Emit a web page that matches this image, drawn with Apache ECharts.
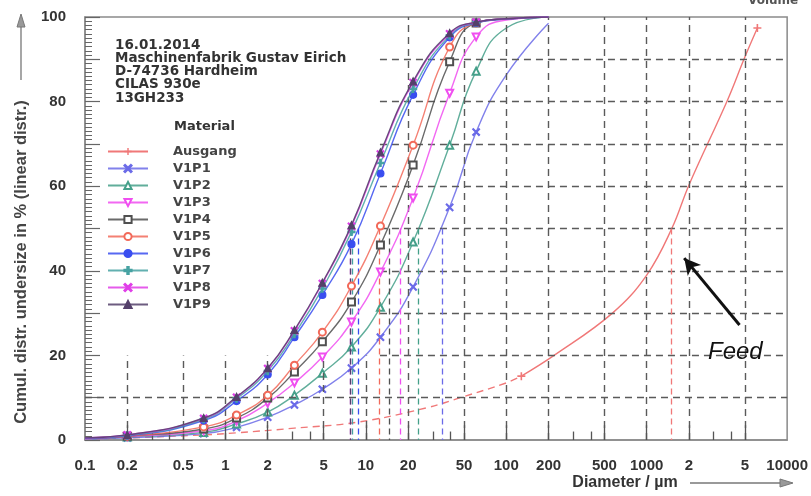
<!DOCTYPE html>
<html>
<head>
<meta charset="utf-8">
<script src="https://cdn.jsdelivr.net/npm/echarts@6/dist/echarts.min.js"></script>
<style>
  html, body { margin: 0; padding: 0; background: #fff; }
  #chart { width: 811px; height: 496px; }
</style>
</head>
<body>
<div id="chart"></div>
<script>
// 粒径分布 (CILAS 930e) - 累计筛下量 Q3
const sizes = [0.1, 0.2, 0.7, 1.2, 2, 3.1, 4.9, 7.9, 12.7, 21.7, 39.5, 61, 100, 200];

const v1p1 = [0.2, 0.5, 1.5, 3.0, 5.4, 8.3, 12.0, 17.0, 24.3, 36.2, 55.0, 72.8, 86.3, 98.5];
const v1p2 = [0.3, 0.7, 1.8, 3.8, 6.6, 10.6, 15.8, 22.0, 31.4, 46.8, 69.7, 87.2, 97.4, 100];
const v1p3 = [0.3, 0.8, 2.2, 4.5, 8.7, 13.5, 19.6, 27.9, 39.7, 57.2, 82.0, 95.3, 99.3, 100];
const v1p4 = [0.4, 0.9, 2.6, 5.2, 9.9, 16.1, 23.2, 32.6, 46.1, 65.0, 89.4, 98.6, 99.5, 100];
const v1p5 = [0.4, 0.9, 3.1, 5.9, 10.6, 17.7, 25.5, 36.4, 50.6, 69.7, 92.9, 98.6, 99.6, 100];
const v1p6 = [0.4, 1.0, 4.6, 9.2, 15.5, 24.3, 34.3, 46.3, 63.0, 81.6, 95.2, 98.6, 99.5, 100];
const v1p7 = [0.5, 1.1, 4.9, 9.8, 16.3, 25.0, 35.8, 49.2, 65.5, 83.0, 95.6, 98.7, 99.6, 100];
const v1p8 = [0.5, 1.2, 5.1, 10.1, 16.9, 25.8, 37.0, 50.5, 67.6, 84.5, 96.0, 98.8, 99.6, 100];
const v1p9 = [0.5, 1.2, 5.2, 10.2, 17.0, 26.0, 37.2, 50.8, 68.0, 84.8, 96.2, 98.8, 99.6, 100];

// Ausgang (Feed): gestrichelt bis 128 µm, danach durchgezogen
const feedSizesDash = [0.1, 0.2, 0.7, 1.2, 3.1, 8.7, 27, 49, 100, 128];
const feedValsDash = [0.2, 0.5, 1.2, 1.7, 2.8, 4.2, 7.6, 10.2, 13.5, 15.1];
const feedSizes = [128, 219, 570, 1000, 1514, 2000, 3765, 4966, 6138];
const feedVals = [15.1, 20.0, 30.0, 39.0, 50.1, 60.3, 80.4, 90.3, 97.4];

// d50 Werte (Reihenfolge wie names)
const names = ['Ausgang', 'V1P1', 'V1P2', 'V1P3', 'V1P4', 'V1P5', 'V1P6', 'V1P7', 'V1P8', 'V1P9'];
const d50 = [1500, 35, 23.5, 17.6, 14.7, 12.4, 8.8, 8.0, 7.8, 7.75];

const xTicks = [0.1, 0.2, 0.5, 1, 2, 5, 10, 20, 50, 100, 200, 500, 1000, 2000, 5000, 10000];
const xGrid = [0.2, 0.5, 1, 2, 5, 10, 20, 50, 100, 200, 500, 1000, 2000, 5000];
const xMinor = [0.3, 0.4, 3, 4, 30, 40, 300, 400, 3000, 4000];
const yGrid = [10, 20, 30, 40, 50, 60, 70, 80, 90];

const headerLines = ['16.01.2014', 'Maschinenfabrik Gustav Eirich', 'D-74736 Hardheim', 'CILAS 930e', '13GH233'];

// Bereich hinter der Legende ohne Gitter (Ecke in Achsenwerten)
const boxCorner = [12.6, 20];
// Pfeil zur Feed-Kurve (Achsenwerte)
const feedArrow = [[4580, 27.2], [1850, 43.0]];

const PLUS = 'path://M4,0H6V4H10V6H6V10H4V6H0V4H4Z';
const CROSS = 'path://M1,0L5,4L9,0L10,1L6,5L10,9L9,10L5,6L1,10L0,9L4,5L0,1Z';

const styles = {
  V1P1: { color: '#6b6be8', symbol: CROSS },
  V1P2: { color: '#45a08a', symbol: 'emptyTriangle' },
  V1P3: { color: '#f04ef0', symbol: 'emptyTriangle', rotate: 180 },
  V1P4: { color: '#505050', symbol: 'emptyRect' },
  V1P5: { color: '#f26a5a', symbol: 'emptyCircle' },
  V1P6: { color: '#3a4ef0', symbol: 'circle' },
  V1P7: { color: '#46a2a2', symbol: PLUS },
  V1P8: { color: '#e03ee8', symbol: CROSS },
  V1P9: { color: '#54406a', symbol: 'triangle' }
};
const feedColor = '#f07878';

function points(xs, ys, keep) {
  return xs.map((x, i) => {
    const item = { value: [x, ys[i]] };
    if (!keep(i, xs.length)) item.symbol = 'none';
    return item;
  });
}

function d50Line(i, color) {
  return {
    silent: true,
    symbol: 'none',
    label: { show: false },
    lineStyle: { color: color, type: [6, 4], width: 1.3 },
    data: [[{ coord: [d50[i], 50] }, { coord: [d50[i], 0] }]]
  };
}

const curveData = [v1p1, v1p2, v1p3, v1p4, v1p5, v1p6, v1p7, v1p8, v1p9];

const series = [];

// Gitter, Teilstriche und Pfeil als markLine einer leeren Hilfsreihe
const gridLines = [];
yGrid.forEach(y => {
  gridLines.push([{ coord: [y > 10 ? boxCorner[0] : 0.1, y] }, { coord: [10000, y] }]);
});
xGrid.forEach(x => {
  gridLines.push([{ coord: [x, 0] }, { coord: [x, x < boxCorner[0] ? boxCorner[1] : 100] }]);
});
xGrid.forEach(x => {
  gridLines.push([{ coord: [x, 0], lineStyle: { type: 'solid', color: '#555', width: 1.3 } }, { coord: [x, 3.5] }]);
});
xMinor.forEach(x => {
  gridLines.push([{ coord: [x, 0], lineStyle: { type: 'solid', color: '#555', width: 1.3 } }, { coord: [x, 2] }]);
});
gridLines.push([
  { coord: feedArrow[0], lineStyle: { type: 'solid', color: '#111', width: 3 }, symbol: 'none' },
  { coord: feedArrow[1], symbol: 'arrow', symbolSize: [13, 16] }
]);

series.push({
  name: '_grid',
  type: 'line',
  data: [],
  z: 1,
  markLine: {
    silent: true,
    symbol: 'none',
    label: { show: false },
    lineStyle: { color: '#5a5a5a', type: [7, 5], width: 1.4 },
    data: gridLines
  }
});

// Ausgang
series.push({
  name: 'Ausgang',
  type: 'line',
  data: points(feedSizes, feedVals, (i, n) => i === 0 || i === n - 1),
  smooth: 0.4,
  symbol: PLUS,
  symbolSize: 8,
  lineStyle: { color: feedColor, width: 1.4 },
  itemStyle: { color: feedColor },
  z: 3,
  markLine: d50Line(0, feedColor)
});
series.push({
  name: '_feed_dash',
  type: 'line',
  data: points(feedSizesDash, feedValsDash, () => false),
  smooth: 0.4,
  symbol: 'none',
  lineStyle: { color: feedColor, width: 1.4, type: [7, 5] },
  itemStyle: { color: feedColor },
  z: 3
});

names.slice(1).forEach((name, k) => {
  const st = styles[name];
  series.push({
    name: name,
    type: 'line',
    data: points(sizes, curveData[k], (i, n) => i > 0 && i < n - 2),
    smooth: 0.5,
    symbol: st.symbol,
    symbolRotate: st.rotate || 0,
    symbolSize: 7,
    showAllSymbol: true,
    lineStyle: { color: st.color, width: 1.4, opacity: 0.85 },
    itemStyle: { color: st.color, borderColor: st.color, borderWidth: 1.2 },
    z: 3 + k,
    markLine: d50Line(k + 1, st.color)
  });
});

const chart = echarts.init(document.getElementById('chart'));

const option = {
  animation: false,
  grid: {
    left: 85, right: 18, top: 17, bottom: 56,
    show: true, borderColor: '#8a8a8a', borderWidth: 1.5
  },
  legend: {
    orient: 'vertical',
    left: 102,
    top: 140,
    itemWidth: 40,
    itemHeight: 9,
    itemGap: 4,
    selectedMode: false,
    data: names,
    textStyle: {
      fontFamily: 'DejaVu Sans', fontWeight: 'bold', fontSize: 13,
      color: '#444', padding: [0, 0, 0, 20]
    }
  },
  xAxis: {
    type: 'log',
    logBase: 10,
    min: 0.1,
    max: 10000,
    axisLine: { lineStyle: { color: '#8a8a8a', width: 1.5 } },
    axisTick: { show: false },
    splitLine: { show: false },
    axisLabel: {
      customValues: xTicks,
      margin: 18,
      fontFamily: 'Liberation Sans', fontWeight: 'bold', fontSize: 15, color: '#333',
      formatter: v => {
        const n = +(+v).toPrecision(6);
        if (n === 2000) return '2';
        if (n === 5000) return '5';
        return String(n);
      }
    }
  },
  yAxis: {
    type: 'value',
    min: 0,
    max: 100,
    interval: 10,
    axisLine: { show: true, lineStyle: { color: '#8a8a8a', width: 1.5 } },
    axisTick: { show: true, inside: true, length: 15, lineStyle: { color: '#666', width: 1.2 } },
    minorTick: { show: true, splitNumber: 10, length: 7, lineStyle: { color: '#666', width: 1 } },
    splitLine: { show: false },
    axisLabel: {
      margin: 19,
      fontFamily: 'Liberation Sans', fontWeight: 'bold', fontSize: 15, color: '#333',
      formatter: v => (v % 20 === 0 ? String(v) : '')
    }
  },
  graphic: [
    {
      type: 'text', left: 115, top: 38, z: 10,
      style: { text: headerLines.join('\n'), font: 'bold 13.5px "DejaVu Sans"', fill: '#333', lineHeight: 13.3 }
    },
    {
      type: 'text', left: 174, top: 120, z: 10,
      style: { text: 'Material', font: 'bold 13px "DejaVu Sans"', fill: '#333' }
    },
    {
      type: 'text', x: 21, y: 262, rotation: Math.PI / 2, z: 10,
      style: {
        text: 'Cumul. distr. undersize in % (linear distr.)',
        font: 'bold 16.5px "Liberation Sans"', fill: '#444',
        textAlign: 'center', textVerticalAlign: 'middle'
      }
    },
    { type: 'line', z: 10, shape: { x1: 21, y1: 80, x2: 21, y2: 24 }, style: { stroke: '#777', lineWidth: 1.3 } },
    { type: 'polygon', z: 10, shape: { points: [[21, 14], [17, 27], [25, 27]] }, style: { fill: '#999', stroke: '#777' } },
    {
      type: 'text', x: 625, y: 483, z: 10,
      style: {
        text: 'Diameter / µm', font: 'bold 16px "Liberation Sans"', fill: '#333',
        textAlign: 'center', textVerticalAlign: 'middle'
      }
    },
    { type: 'line', z: 10, shape: { x1: 690, y1: 483, x2: 782, y2: 483 }, style: { stroke: '#777', lineWidth: 1.3 } },
    { type: 'polygon', z: 10, shape: { points: [[793, 483], [780, 479], [780, 487]] }, style: { fill: '#999', stroke: '#777' } },
    {
      type: 'text', left: 748, top: -5, z: 10,
      style: { text: 'Volume', font: 'bold 12px "DejaVu Sans"', fill: '#555' }
    },
    {
      type: 'text', left: 708, top: 340, z: 10,
      style: { text: 'Feed', font: 'italic 24px "Liberation Sans"', fill: '#111' }
    }
  ],
  series: series
};

chart.setOption(option);
</script>
</body>
</html>
